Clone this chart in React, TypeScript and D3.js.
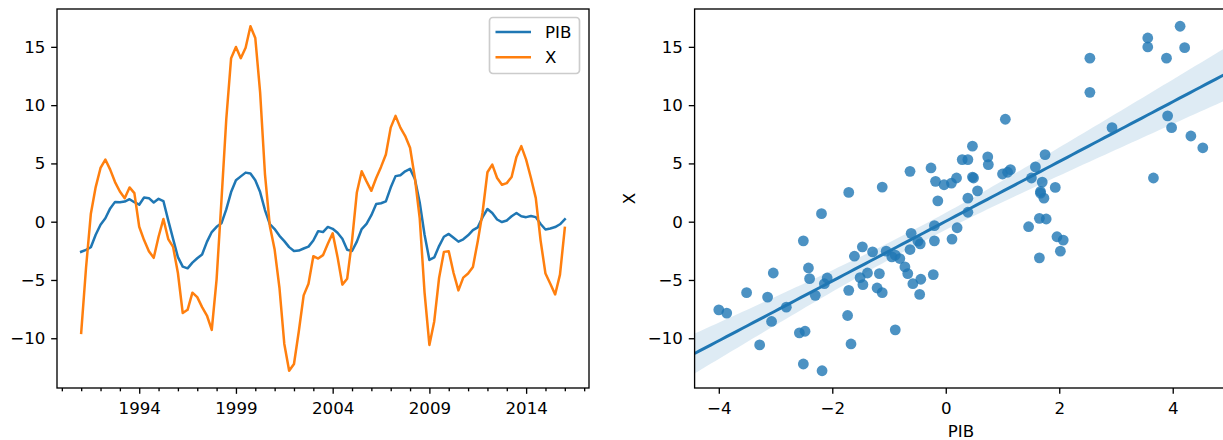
import React, { useEffect, useRef } from 'react';
import * as d3 from 'd3';

// quarterly series, first value = 1991 Q1
const startYear = 1991;
const pib = [
  -2.58, -2.42, -2.19, -1.12, -0.26, 0.29, 1.14, 1.7, 1.67, 1.73,
  1.93, 1.67, 1.46, 2.07, 2.02, 1.65, 1.96, 1.77, 0.11, -1.47,
  -3.04, -3.86, -4.0, -3.51, -3.14, -2.81, -1.73, -0.89, -0.44, -0.14,
  1.05, 2.54, 3.56, 3.89, 4.21, 4.13, 3.56, 2.54, 1.0, -0.2,
  -0.63, -1.21, -1.67, -2.18, -2.51, -2.48, -2.3, -2.14, -1.61, -0.81,
  -0.89, -0.45, -0.61, -0.95, -1.46, -2.4, -2.51, -1.71, -0.63, -0.18,
  0.56, 1.51, 1.58, 1.75, 2.93, 3.91, 3.98, 4.32, 4.53, 3.66,
  1.65, -1.12, -3.28, -3.07, -2.09, -1.29, -1.05, -1.38, -1.71, -1.51,
  -1.17, -0.72, -0.49, 0.39, 1.09, 0.75, 0.19, -0.03, 0.1, 0.47,
  0.74, 0.47, 0.39, 0.49, 0.39, -0.2, -0.67, -0.58, -0.46, -0.22,
  0.2,
];
const xSeries = [
  -9.54, -3.97, 0.69, 2.97, 4.61, 5.33, 4.47, 3.4, 2.59, 2.02,
  2.94, 2.45, -0.43, -1.58, -2.53, -3.1, -1.29, 0.23, -1.49, -2.16,
  -4.4, -7.84, -7.56, -6.09, -6.47, -7.33, -8.05, -9.28, -4.94, 1.79,
  8.79, 14.03, 14.99, 14.03, 14.93, 16.77, 15.76, 11.1, 4.09, -0.34,
  -2.39, -5.69, -10.49, -12.79, -12.21, -9.4, -6.32, -5.32, -2.96, -3.16,
  -2.87, -1.9, -1.0, -3.02, -5.4, -4.89, -1.64, 2.51, 4.32, 3.46,
  2.65, 3.75, 4.7, 5.76, 8.07, 9.08, 8.07, 7.35, 6.34, 3.75,
  0.29, -6.09, -10.57, -8.56, -4.83, -2.59, -2.53, -4.4, -5.89, -4.8,
  -4.45, -3.88, -1.67, 0.81, 4.24, 4.9, 3.75, 3.17, 3.31, 3.83,
  5.56, 6.48, 5.33, 3.75, 2.02, -1.64, -4.45, -5.32, -6.24, -4.54,
  -0.52,
];
const seriesNames = ['PIB', 'X'];
const yearTicks = [1994, 1999, 2004, 2009, 2014];
const valueTicks = [-10, -5, 0, 5, 10, 15];
const pibTicks = [-4, -2, 0, 2, 4];

const blue = '#1f77b4';
const orange = '#ff7f0e';
const FS = 16.67; // 10pt
const PT = 1.667;
const font = 'DejaVu Sans, sans-serif';

const App = () => {
  const ref = useRef<SVGSVGElement>(null);

  useEffect(() => {
    const svg = d3.select(ref.current);
    svg.selectAll('*').remove();

    const top = 9;
    const bottom = 388;
    const t = pib.map((_, i) => startYear + i / 4);

    // shared y limits (matplotlib 5% margins)
    const [vmin, vmax] = d3.extent(xSeries.concat(pib)) as [number, number];
    const vp = (vmax - vmin) * 0.05;
    const y = d3.scaleLinear().domain([vmin - vp, vmax + vp]).range([bottom, top]);

    // ---------- left: time series ----------
    const [t0, t1] = d3.extent(t) as [number, number];
    const tp = (t1 - t0) * 0.05;
    const xt = d3.scaleLinear().domain([t0 - tp, t1 + tp]).range([57, 589]);

    const gl = svg.append('g');
    const line = d3.line<number>().x((_, i) => xt(t[i])).y((d) => y(d));
    ;[pib, xSeries].forEach((s, i) => {
      gl.append('path')
        .attr('d', line(s))
        .attr('fill', 'none')
        .attr('stroke', i === 0 ? blue : orange)
        .attr('stroke-width', 1.5 * PT)
        .attr('stroke-linejoin', 'round')
        .attr('stroke-linecap', 'square');
    });

    const minorYears = d3.range(Math.ceil(t0 - tp), Math.floor(t1 + tp) + 1).filter((yr) => !yearTicks.includes(yr));
    gl.append('g')
      .attr('transform', `translate(0,${bottom})`)
      .call(d3.axisBottom(xt).tickValues(minorYears).tickSize(2 * PT).tickFormat(() => ''))
      .call((g) => g.select('.domain').remove());
    const axB = gl.append('g')
      .attr('transform', `translate(0,${bottom})`)
      .call(d3.axisBottom(xt).tickValues(yearTicks).tickSize(3.5 * PT).tickPadding(3.5 * PT + 2).tickFormat(d3.format('d')));
    const axL = gl.append('g')
      .attr('transform', `translate(57,0)`)
      .call(d3.axisLeft(y).tickValues(valueTicks).tickSize(3.5 * PT).tickPadding(3.5 * PT));
    ;[axB, axL].forEach((a) => {
      a.select('.domain').remove();
      a.attr('font-family', font).attr('font-size', FS);
      a.selectAll('line').attr('stroke', '#000').attr('stroke-width', 0.8 * PT);
      a.selectAll('text').attr('fill', '#000');
    });
    gl.selectAll('.tick line').attr('stroke', '#000').attr('stroke-width', 0.8 * PT);

    gl.append('rect')
      .attr('x', 57).attr('y', top).attr('width', 589 - 57).attr('height', bottom - top)
      .attr('fill', 'none').attr('stroke', '#000').attr('stroke-width', 0.8 * PT);

    // legend
    const lg = gl.append('g').attr('font-family', font).attr('font-size', FS);
    lg.append('rect')
      .attr('x', 489.5).attr('y', 17.5).attr('width', 90).attr('height', 56).attr('rx', 3.3)
      .attr('fill', '#fff').attr('fill-opacity', 0.8)
      .attr('stroke', '#cccccc').attr('stroke-width', PT);
    seriesNames.forEach((name, i) => {
      const cy = 32 + i * 25.3;
      lg.append('line')
        .attr('x1', 495.5).attr('x2', 531).attr('y1', cy).attr('y2', cy)
        .attr('stroke', i === 0 ? blue : orange).attr('stroke-width', 1.5 * PT);
      lg.append('text').attr('x', 545).attr('y', cy + 6).text(name);
    });

    // ---------- right: regression ----------
    const [p0, p1] = d3.extent(pib) as [number, number];
    const pp = (p1 - p0) * 0.05;
    const xr = d3.scaleLinear().domain([p0 - pp, p1 + pp]).range([694.6, 694.6 + 532.4]);

    // OLS fit with robust (HC1) band, close to seaborn's bootstrap interval
    const n = pib.length;
    const mx = d3.mean(pib) as number;
    const my = d3.mean(xSeries) as number;
    const sxx = d3.sum(pib, (v) => (v - mx) ** 2);
    const sxy = d3.sum(pib, (v, i) => (v - mx) * (xSeries[i] - my));
    const slope = sxy / sxx;
    const icpt = my - slope * mx;
    const res = pib.map((v, i) => xSeries[i] - icpt - slope * v);
    const a00 = n, a01 = d3.sum(pib), a11 = d3.sum(pib, (v) => v * v);
    const det = a00 * a11 - a01 * a01;
    const i00 = a11 / det, i01 = -a01 / det, i11 = a00 / det;
    const b00 = d3.sum(res, (e) => e * e);
    const b01 = d3.sum(res, (e, i) => e * e * pib[i]);
    const b11 = d3.sum(res, (e, i) => e * e * pib[i] * pib[i]);
    // V = Ainv * B * Ainv
    const m00 = i00 * b00 + i01 * b01, m01 = i00 * b01 + i01 * b11;
    const m10 = i01 * b00 + i11 * b01, m11 = i01 * b01 + i11 * b11;
    const k = n / (n - 2);
    const v00 = (m00 * i00 + m01 * i01) * k;
    const v01 = (m00 * i01 + m01 * i11) * k;
    const v11 = (m10 * i01 + m11 * i11) * k;
    const tcrit = 1.984;
    const [g0, g1] = xr.domain();
    const grid = d3.range(101).map((i) => g0 + ((g1 - g0) * i) / 100);
    const band = grid.map((g) => {
      const yh = icpt + slope * g;
      const se = Math.sqrt(v00 + 2 * g * v01 + g * g * v11);
      return { g, yh, lo: yh - tcrit * se, hi: yh + tcrit * se };
    });

    const gr = svg.append('g');
    gr.selectAll('circle')
      .data(pib)
      .enter()
      .append('circle')
      .attr('cx', (d) => xr(d))
      .attr('cy', (_, i) => y(xSeries[i]))
      .attr('r', 5.4)
      .attr('fill', blue)
      .attr('fill-opacity', 0.8);

    gr.append('path')
      .attr('d', d3.area<any>().x((d) => xr(d.g)).y0((d) => y(d.lo)).y1((d) => y(d.hi))(band))
      .attr('fill', blue)
      .attr('fill-opacity', 0.15);
    gr.append('path')
      .attr('d', d3.line<any>().x((d) => xr(d.g)).y((d) => y(d.yh))(band))
      .attr('fill', 'none')
      .attr('stroke', blue)
      .attr('stroke-width', 1.8 * PT);

    const rB = gr.append('g')
      .attr('transform', `translate(0,${bottom})`)
      .call(d3.axisBottom(xr).tickValues(pibTicks).tickSize(3.5 * PT).tickPadding(3.5 * PT + 2));
    const rL = gr.append('g')
      .attr('transform', `translate(694.6,0)`)
      .call(d3.axisLeft(y).tickValues(valueTicks).tickSize(3.5 * PT).tickPadding(3.5 * PT));
    ;[rB, rL].forEach((a) => {
      a.select('.domain').remove();
      a.attr('font-family', font).attr('font-size', FS);
      a.selectAll('line').attr('stroke', '#000').attr('stroke-width', 0.8 * PT);
      a.selectAll('text').attr('fill', '#000');
    });
    gr.append('rect')
      .attr('x', 694.6).attr('y', top).attr('width', 532.4).attr('height', bottom - top)
      .attr('fill', 'none').attr('stroke', '#000').attr('stroke-width', 0.8 * PT);

    gr.append('text')
      .attr('x', 961).attr('y', 437)
      .attr('text-anchor', 'middle')
      .attr('font-family', font).attr('font-size', FS)
      .text('PIB');
    gr.append('text')
      .attr('transform', `translate(635,198.5) rotate(-90)`)
      .attr('text-anchor', 'middle')
      .attr('font-family', font).attr('font-size', FS)
      .text('X');
  }, []);

  return (
    <div style={{ position: 'absolute', left: 0, top: 0, width: 1223, height: 440, overflow: 'hidden', background: '#fff' }}>
      <svg ref={ref} width={1223} height={440} />
    </div>
  );
};

export default App;
